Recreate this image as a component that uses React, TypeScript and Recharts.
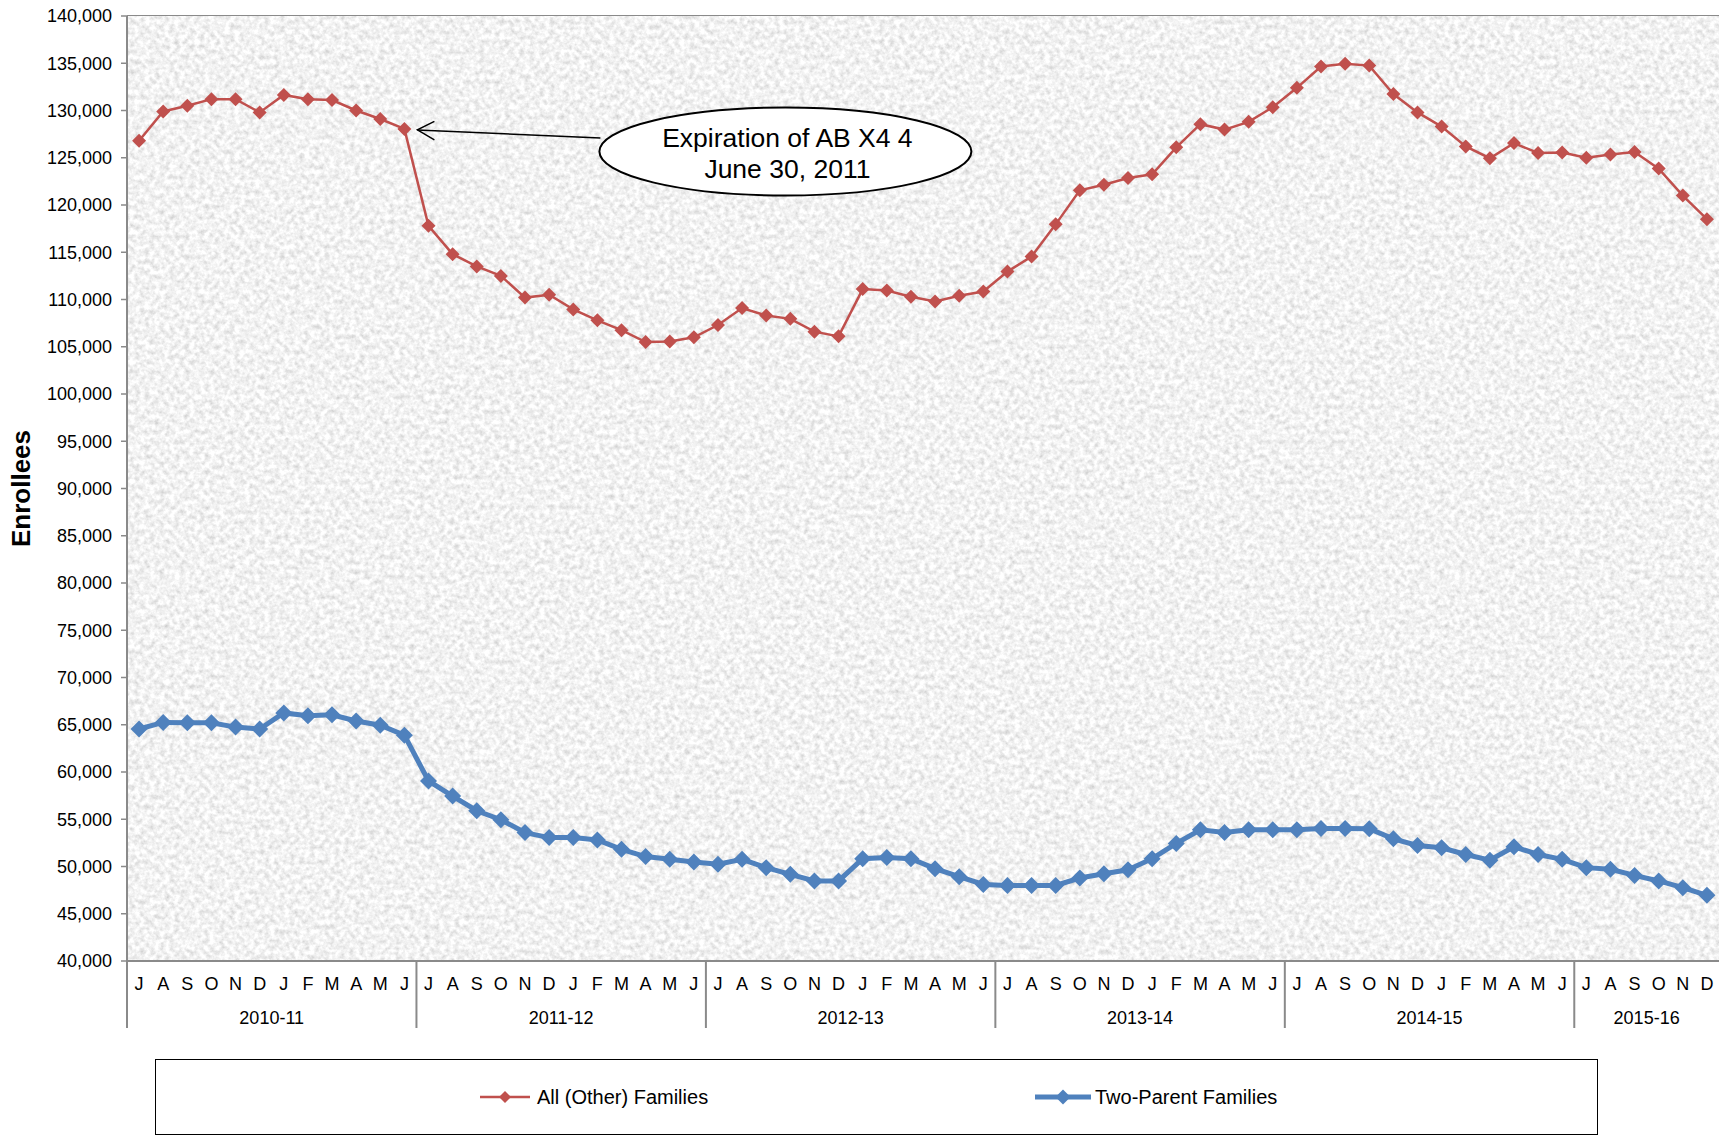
import {
  LineChart,
  Line,
  XAxis,
  YAxis,
  CartesianGrid,
  Legend,
  ReferenceArea,
  ReferenceDot,
} from 'recharts';

const fiscalYears = ['2010-11', '2011-12', '2012-13', '2013-14', '2014-15', '2015-16'];
const monthsInYear = [12, 12, 12, 12, 12, 6];
const monthLetters = ['J', 'A', 'S', 'O', 'N', 'D', 'J', 'F', 'M', 'A', 'M', 'J'];

// monthly enrollees, Jul 2010 .. Dec 2015
const allOtherFamilies = [
  126800, 129900, 130500, 131200, 131200, 129800, 131650, 131200, 131100, 130000, 129100, 128050,
  117800, 114800, 113500, 112500, 110200, 110500, 108950, 107800, 106750, 105500, 105550, 106000,
  107300, 109100, 108300, 107950, 106600, 106100, 111100, 110950, 110300, 109800, 110400, 110850,
  112950, 114550, 117950, 121550, 122150, 122850, 123250, 126100, 128550, 127980, 128800, 130350,
  132400, 134650, 134950, 134750, 131750, 129800, 128300, 126200, 124950, 126550, 125500, 125550,
  125000, 125350, 125600, 123850, 121000, 118500,
];
const twoParentFamilies = [
  64550, 65250, 65200, 65200, 64750, 64550, 66250, 65950, 66050, 65400, 64950, 63900,
  59050, 57450, 55900, 54950, 53590, 53060, 53060, 52810, 51820, 51050, 50760, 50480,
  50240, 50760, 49880, 49170, 48470, 48470, 50830, 50940, 50830, 49770, 48920, 48100,
  48000, 48000, 48000, 48780, 49240, 49650, 50830, 52440, 53880, 53600, 53880, 53880,
  53880, 54020, 54020, 54000, 52930, 52230, 51980, 51270, 50670, 52090, 51270, 50760,
  49880, 49700, 49060, 48470, 47760, 46950,
];
const yTicks = [
  40000, 45000, 50000, 55000, 60000, 65000, 70000, 75000, 80000, 85000, 90000,
  95000, 100000, 105000, 110000, 115000, 120000, 125000, 130000, 135000, 140000,
];
const annotationLines = ['Expiration of AB X4 4', 'June 30, 2011'];
const annotationMonth = '2010-11:11';

const CHART_W = 1719;
const CHART_H = 1136;
const Y_AXIS_W = 127;
const RED = '#c0504d';
const BLUE = '#4f81bd';
const GRID = '#8a8a8a';
const FONT = '"Liberation Sans", Arial, sans-serif';

const data: any[] = [];
fiscalYears.forEach((fy, g) => {
  for (let m = 0; m < monthsInYear[g]; m++) {
    const i = data.length;
    data.push({
      key: `${fy}:${m}`,
      letter: monthLetters[m],
      year: g,
      month: m,
      allOther: allOtherFamilies[i],
      twoParent: twoParentFamilies[i],
    });
  }
});
const byKey = new Map(data.map((d) => [d.key, d]));
const BAND = (CHART_W - Y_AXIS_W) / data.length;

function diamond(color: string, r: number) {
  return (props: any) => {
    const { cx, cy, index } = props;
    if (cx == null || cy == null) return <g key={`d-${index}`} />;
    return (
      <path
        key={`d-${color}-${index}`}
        d={`M${cx},${cy - r}L${cx + r},${cy}L${cx},${cy + r}L${cx - r},${cy}Z`}
        fill={color}
      />
    );
  };
}

function MonthTick(props: any) {
  const { x, y, payload } = props;
  const d = byKey.get(payload.value);
  if (!d) return null;
  const left = x - BAND / 2;
  return (
    <g>
      <text x={x} y={y + 29} textAnchor="middle" fontSize={18} fill="#000">
        {d.letter}
      </text>
      {d.month === 0 && (
        <>
          <line x1={left} x2={left} y1={y} y2={y + 67} stroke={GRID} strokeWidth={2} />
          <text
            x={left + (monthsInYear[d.year] * BAND) / 2}
            y={y + 63}
            textAnchor="middle"
            fontSize={18}
            fill="#000"
          >
            {fiscalYears[d.year]}
          </text>
        </>
      )}
    </g>
  );
}

// textured plot background; the area spans first..last point, so widen by half a band each side
function GraniteBackground(props: any) {
  const { y, height } = props;
  const x = props.x - BAND / 2;
  const width = props.width + BAND;
  return (
    <g>
      <defs>
        <filter
          id="granite"
          filterUnits="userSpaceOnUse"
          x={x}
          y={y}
          width={width}
          height={height}
        >
          <feTurbulence type="fractalNoise" baseFrequency="0.2" numOctaves={3} seed={7} />
          <feColorMatrix
            type="matrix"
            values="0.62 0 0 0 0.58  0.62 0 0 0 0.58  0.62 0 0 0 0.58  0 0 0 0 1"
          />
        </filter>
      </defs>
      <rect x={x} y={y} width={width} height={height} fill="#e4e4e4" filter="url(#granite)" />
    </g>
  );
}

function Callout(props: any) {
  const { cx, cy } = props;
  if (cx == null || cy == null) return null;
  const tipX = cx + 13;
  const tipY = cy + 1;
  return (
    <g>
      <line x1={tipX} y1={tipY} x2={cx + 196} y2={cy + 9} stroke="#000" strokeWidth={1.5} />
      <polyline
        points={`${tipX + 17},${tipY - 8.5} ${tipX},${tipY} ${tipX + 17},${tipY + 10}`}
        fill="none"
        stroke="#000"
        strokeWidth={1.5}
      />
      <ellipse cx={cx + 381} cy={cy + 22.6} rx={186} ry={44} fill="#fff" stroke="#000" strokeWidth={2} />
      {annotationLines.map((t, i) => (
        <text key={t} x={cx + 383} y={cy + 18 + i * 31} textAnchor="middle" fontSize={26.5} fill="#000">
          {t}
        </text>
      ))}
    </g>
  );
}

function renderYLabel(props: any) {
  const vb = props.viewBox || { x: 0, y: 16, height: 945 };
  const lx = vb.x + 30;
  const ly = vb.y + vb.height / 2;
  return (
    <text
      x={lx}
      y={ly}
      transform={`rotate(-90, ${lx}, ${ly})`}
      textAnchor="middle"
      fontSize={26}
      fontWeight="bold"
      fill="#000"
    >
      Enrollees
    </text>
  );
}

function LegendBox(props: any) {
  const payload = props.payload || [];
  const items = [
    { lineX: 324, lineW: 50, textX: 381, width: 2.5, r: 6 },
    { lineX: 879, lineW: 56, textX: 939, width: 5, r: 7.5 },
  ];
  return (
    <div
      style={{
        position: 'relative',
        width: 1443,
        height: 76,
        boxSizing: 'border-box',
        border: '1.5px solid #000',
        background: '#fff',
        fontFamily: FONT,
      }}
    >
      {payload.slice(0, 2).map((p: any, i: number) => {
        const it = items[i];
        const mid = it.lineW / 2;
        return (
          <div key={p.value} style={{ position: 'absolute', left: it.lineX, top: 26, height: 22 }}>
            <svg width={it.lineW} height={22} style={{ position: 'absolute', left: 0, top: 0 }}>
              <line x1={0} x2={it.lineW} y1={11} y2={11} stroke={p.color} strokeWidth={it.width} />
              <path
                d={`M${mid},${11 - it.r}L${mid + it.r},11L${mid},${11 + it.r}L${mid - it.r},11Z`}
                fill={p.color}
              />
            </svg>
            <span
              style={{
                position: 'absolute',
                left: it.textX - it.lineX,
                top: 0,
                lineHeight: '22px',
                fontSize: 20,
                color: '#000',
                whiteSpace: 'nowrap',
              }}
            >
              {p.value}
            </span>
          </div>
        );
      })}
    </div>
  );
}

export default function App() {
  return (
    <div
      style={{
        position: 'absolute',
        left: 0,
        top: 0,
        width: CHART_W,
        height: CHART_H,
        background: '#fff',
        fontFamily: FONT,
      }}
    >
      <LineChart
        width={CHART_W}
        height={CHART_H}
        data={data}
        margin={{ top: 16, right: 0, left: 0, bottom: 29 }}
      >
        <ReferenceArea shape={GraniteBackground} ifOverflow="visible" />
        <CartesianGrid vertical={false} stroke={GRID} strokeWidth={1.8} />
        <XAxis
          dataKey="key"
          interval={0}
          height={70}
          padding={{ left: BAND / 2, right: BAND / 2 }}
          tickSize={0}
          tickMargin={0}
          tickLine={false}
          axisLine={{ stroke: GRID, strokeWidth: 2 }}
          tick={<MonthTick />}
        />
        <YAxis
          width={Y_AXIS_W}
          domain={[40000, 140000]}
          ticks={yTicks}
          interval={0}
          tickSize={6}
          tickMargin={9}
          tickLine={{ stroke: GRID, strokeWidth: 1.5 }}
          axisLine={{ stroke: GRID, strokeWidth: 2 }}
          tick={{ fill: '#000', fontSize: 18 }}
          tickFormatter={(v: number) => v.toLocaleString('en-US')}
          label={renderYLabel}
        />
        <Legend
          verticalAlign="bottom"
          content={<LegendBox />}
          wrapperStyle={{ left: 155, top: 1059, bottom: 'auto', width: 1443, height: 76 }}
        />
        <Line
          type="linear"
          dataKey="allOther"
          name="All (Other) Families"
          stroke={RED}
          strokeWidth={2.5}
          dot={diamond(RED, 7)}
          activeDot={false}
          isAnimationActive={false}
        />
        <Line
          type="linear"
          dataKey="twoParent"
          name="Two-Parent Families"
          stroke={BLUE}
          strokeWidth={5}
          dot={diamond(BLUE, 8.5)}
          activeDot={false}
          isAnimationActive={false}
        />
        <ReferenceDot
          x={annotationMonth}
          y={byKey.get(annotationMonth).allOther}
          ifOverflow="visible"
          shape={Callout}
        />
      </LineChart>
    </div>
  );
}
